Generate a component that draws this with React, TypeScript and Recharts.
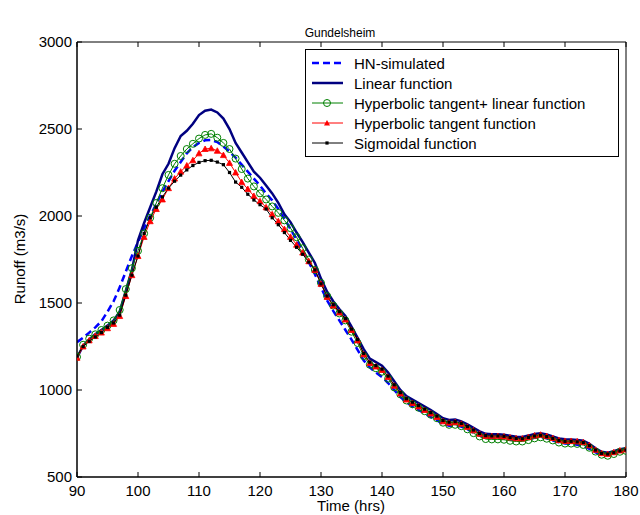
import React from "react";
import { LineChart, Line, XAxis, YAxis } from "recharts";

// hours on the x axis
const hours = [
  90, 91, 92, 93, 94, 95, 96, 97, 98, 99, 100, 101, 102, 103, 104, 105, 106, 107, 108, 109, 110,
  111, 112, 113, 114, 115, 116, 117, 118, 119, 120, 121, 122, 123, 124, 125, 126, 127, 128, 129, 130,
  131, 132, 133, 134, 135, 136, 137, 138, 139, 140, 141, 142, 143, 144, 145, 146, 147, 148, 149, 150,
  151, 152, 153, 154, 155, 156, 157, 158, 159, 160, 161, 162, 163, 164, 165, 166, 167, 168, 169, 170,
  171, 172, 173, 174, 175, 176, 177, 178, 179, 180,
];

const hnSimulated = [
  1275, 1300, 1330, 1360, 1395, 1450, 1510, 1590, 1680, 1770, 1850, 1930, 2000, 2070, 2140, 2200, 2260, 2310, 2360, 2395, 2420,
  2435, 2437, 2425, 2400, 2370, 2335, 2295, 2255, 2215, 2175, 2130, 2090, 2040, 1985, 1925, 1865, 1800, 1735, 1665, 1590,
  1515, 1455, 1400, 1345, 1290, 1230, 1170, 1130, 1100, 1075, 1040, 1000, 960, 930, 905, 885, 865, 845, 825, 805,
  795, 795, 790, 775, 755, 738, 728, 725, 725, 722, 716, 712, 712, 718, 726, 730, 722, 710, 700, 693,
  690, 685, 678, 662, 642, 628, 626, 636, 646, 652,
];

const linearFn = [
  1185, 1255, 1290, 1320, 1345, 1370, 1400, 1450, 1570, 1690, 1860, 1960, 2050, 2140, 2240, 2300, 2390, 2460, 2490, 2530, 2580,
  2605, 2612, 2595, 2560, 2500, 2420, 2365, 2310, 2255, 2220, 2175, 2130, 2075, 2010, 1965, 1905, 1850, 1790, 1730, 1640,
  1565, 1510, 1465, 1425, 1365, 1300, 1235, 1180, 1160, 1140, 1100, 1050, 1000, 965, 945, 925, 905, 885, 862, 838,
  828, 830, 820, 802, 782, 762, 748, 745, 745, 743, 737, 732, 730, 738, 747, 752, 744, 733, 722, 717,
  716, 713, 708, 690, 665, 645, 640, 648, 660, 665,
];

const tanhLinear = [
  1190, 1260, 1295, 1320, 1345, 1370, 1400, 1460, 1580, 1700, 1800, 1900, 1990, 2075, 2160, 2236, 2300, 2345, 2385, 2415, 2445,
  2466, 2472, 2450, 2420, 2385, 2330, 2270, 2215, 2170, 2130, 2095, 2055, 2018, 1975, 1930, 1878, 1815, 1750, 1690, 1615,
  1540, 1485, 1440, 1400, 1335, 1270, 1195, 1145, 1125, 1105, 1065, 1015, 975, 940, 918, 898, 878, 858, 838, 812,
  800, 800, 792, 774, 752, 733, 718, 716, 716, 714, 708, 704, 704, 712, 722, 728, 720, 710, 698, 692,
  692, 690, 684, 668, 646, 628, 622, 632, 645, 650,
];

const tanhFn = [
  1185, 1250, 1285, 1310, 1330, 1355, 1380, 1425, 1540, 1660, 1770, 1880, 1970, 2040, 2095, 2160, 2215, 2255, 2290, 2320, 2360,
  2385, 2389, 2375, 2350, 2305, 2250, 2195, 2155, 2115, 2085, 2050, 2010, 1970, 1925, 1880, 1835, 1790, 1740, 1690, 1610,
  1535, 1485, 1445, 1405, 1345, 1285, 1205, 1155, 1135, 1115, 1075, 1025, 980, 945, 925, 905, 885, 865, 845, 820,
  812, 815, 806, 788, 768, 748, 736, 735, 735, 733, 727, 722, 721, 729, 738, 743, 735, 724, 712, 707,
  707, 705, 700, 682, 656, 637, 632, 642, 652, 658,
];

const sigmoidFn = [
  1195, 1250, 1280, 1305, 1330, 1360, 1385, 1430, 1545, 1660, 1770, 1900, 1990, 2050, 2110, 2160, 2200, 2235, 2265, 2290, 2308,
  2318, 2320, 2310, 2295, 2250, 2195, 2165, 2125, 2092, 2065, 2040, 1990, 1950, 1905, 1860, 1820, 1780, 1735, 1690, 1610,
  1540, 1490, 1450, 1410, 1350, 1290, 1210, 1160, 1140, 1120, 1080, 1030, 985, 950, 930, 910, 890, 870, 850, 825,
  815, 818, 808, 790, 770, 750, 738, 736, 736, 734, 727, 722, 720, 728, 736, 740, 732, 722, 710, 705,
  705, 702, 698, 680, 655, 636, 632, 640, 650, 655,
];

const xTicks = [90, 100, 110, 120, 130, 140, 150, 160, 170, 180];
const yTicks = [500, 1000, 1500, 2000, 2500, 3000];

const FONT = '"Liberation Sans", Arial, Helvetica, sans-serif';

const data = hours.map((h, i) => ({
  t: h,
  hn: hnSimulated[i],
  lin: linearFn[i],
  thl: tanhLinear[i],
  th: tanhFn[i],
  sig: sigmoidFn[i],
}));

// marker shapes
const Circle = (p: any) => (
  <circle key={`c-${p.index}`} cx={p.cx} cy={p.cy} r={3.5} fill="none" stroke="#008000" strokeWidth={1} />
);
const Triangle = (p: any) => (
  <polygon
    key={`t-${p.index}`}
    points={`${p.cx},${p.cy - 3} ${p.cx - 3},${p.cy + 2.5} ${p.cx + 3},${p.cy + 2.5}`}
    fill="#ff0000"
    stroke="#ff0000"
    strokeWidth={0.8}
  />
);
const Square = (p: any) => (
  <rect key={`s-${p.index}`} x={p.cx - 1.6} y={p.cy - 1.6} width={3.2} height={3.2} fill="#000" />
);

const legendItems = [
  { label: "HN-simulated", color: "#0000ff", width: 2.5, dash: "7 4", marker: "" },
  { label: "Linear function", color: "#000080", width: 2.5, dash: "", marker: "" },
  { label: "Hyperbolic tangent+ linear function", color: "#008000", width: 1, dash: "", marker: "circle" },
  { label: "Hyperbolic tangent function", color: "#ff0000", width: 1, dash: "", marker: "triangle" },
  { label: "Sigmoidal function", color: "#000000", width: 1, dash: "", marker: "square" },
];

const LegendBox = () => (
  <div
    style={{
      position: "absolute",
      left: 305,
      top: 49,
      width: 312,
      height: 106,
      border: "1.5px solid #000",
      background: "#fff",
      fontFamily: FONT,
      fontSize: 15,
      color: "#000",
    }}
  >
    {legendItems.map((it, i) => (
      <div key={i} style={{ position: "absolute", left: 0, top: 3 + i * 20, height: 20, display: "flex", alignItems: "center" }}>
        <svg width={48} height={20} style={{ display: "block" }}>
          <line x1={6} x2={37} y1={10} y2={10} stroke={it.color} strokeWidth={it.width} strokeDasharray={it.dash || undefined} />
          {it.marker === "circle" && <circle cx={21} cy={10} r={3.5} fill="none" stroke={it.color} />}
          {it.marker === "triangle" && <polygon points="21,7 18,12.5 24,12.5" fill={it.color} />}
          {it.marker === "square" && <rect x={19.4} y={8.4} width={3.2} height={3.2} fill="#000" />}
        </svg>
        <span style={{ whiteSpace: "nowrap" }}>{it.label}</span>
      </div>
    ))}
  </div>
);

const tickStyle = { fontFamily: FONT, fontSize: 15, fill: "#000" };

export default function App() {
  return (
    <div style={{ position: "absolute", left: 0, top: 0, width: 640, height: 515, background: "#fff" }}>
      <LineChart width={640} height={515} data={data} margin={{ top: 41, right: 13, bottom: 8, left: 0 }}>
        <XAxis
          xAxisId="b"
          dataKey="t"
          type="number"
          domain={[90, 180]}
          ticks={xTicks}
          interval={0}
          height={30}
          tickSize={-5}
          tickMargin={13}
          tick={tickStyle}
          axisLine={{ stroke: "#000", strokeWidth: 1.5 }}
          tickLine={{ stroke: "#000" }}
          allowDataOverflow
        />
        <XAxis
          xAxisId="top"
          orientation="top"
          dataKey="t"
          type="number"
          domain={[90, 180]}
          ticks={xTicks}
          interval={0}
          height={1}
          tickSize={-5}
          tickFormatter={() => ""}
          axisLine={{ stroke: "#000", strokeWidth: 1 }}
          tickLine={{ stroke: "#000" }}
        />
        <YAxis
          yAxisId="l"
          type="number"
          domain={[500, 3000]}
          ticks={yTicks}
          interval={0}
          width={77}
          tickSize={-5}
          tickMargin={10}
          tick={tickStyle}
          axisLine={{ stroke: "#000", strokeWidth: 1.5 }}
          tickLine={{ stroke: "#000" }}
          allowDataOverflow
        />
        <YAxis
          yAxisId="r"
          orientation="right"
          type="number"
          domain={[500, 3000]}
          ticks={yTicks}
          interval={0}
          width={1}
          tickSize={-5}
          tickFormatter={() => ""}
          axisLine={{ stroke: "#000", strokeWidth: 1 }}
          tickLine={{ stroke: "#000" }}
        />
        <Line xAxisId="b" yAxisId="l" dataKey="hn" stroke="#0000ff" strokeWidth={2.5} strokeDasharray="7 4" dot={false} isAnimationActive={false} type="linear" />
        <Line xAxisId="b" yAxisId="l" dataKey="lin" stroke="#000080" strokeWidth={2.5} dot={false} isAnimationActive={false} type="linear" />
        <Line xAxisId="b" yAxisId="l" dataKey="thl" stroke="#008000" strokeWidth={1} dot={Circle} isAnimationActive={false} type="linear" />
        <Line xAxisId="b" yAxisId="l" dataKey="th" stroke="#ff0000" strokeWidth={1} dot={Triangle} isAnimationActive={false} type="linear" />
        <Line xAxisId="b" yAxisId="l" dataKey="sig" stroke="#000000" strokeWidth={1} dot={Square} isAnimationActive={false} type="linear" />
      </LineChart>
      <LegendBox />
      <div style={{ position: "absolute", left: 240, width: 200, top: 26, textAlign: "center", fontFamily: FONT, fontSize: 12, color: "#000" }}>
        Gundelsheim
      </div>
      <div style={{ position: "absolute", left: 251, width: 200, top: 497, textAlign: "center", fontFamily: FONT, fontSize: 15, color: "#000" }}>
        Time (hrs)
      </div>
      <div
        style={{
          position: "absolute",
          left: 19,
          top: 259,
          transform: "translate(-50%, -50%) rotate(-90deg)",
          whiteSpace: "nowrap",
          fontFamily: FONT,
          fontSize: 15,
          color: "#000",
        }}
      >
        Runoff (m3/s)
      </div>
    </div>
  );
}
